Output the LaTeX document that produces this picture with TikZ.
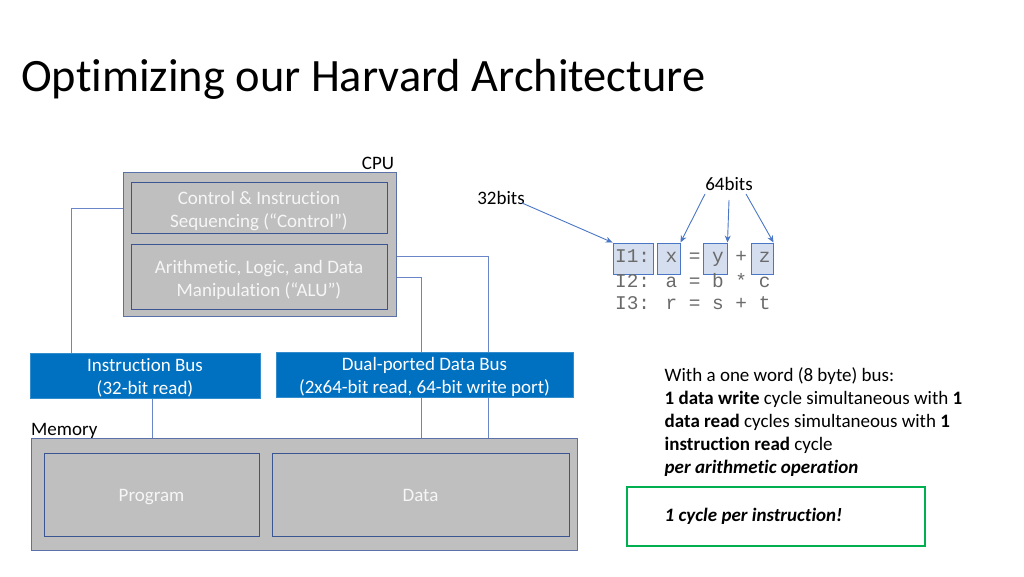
\documentclass[tikz,border=0pt]{standalone}
\usepackage{fontspec}
\setmainfont{Carlito}[Ligatures=NoCommon]
\newfontfamily\codefont{Liberation Mono}
\usetikzlibrary{arrows.meta}
\definecolor{boxgray}{HTML}{BFBFBF}
\definecolor{boxedge}{HTML}{5A72A8}
\definecolor{inneredge}{HTML}{3B5593}
\definecolor{busblue}{HTML}{0070C0}
\definecolor{conncol}{HTML}{6A86C8}
\definecolor{arrowcol}{HTML}{4A76C6}
\definecolor{hlfill}{HTML}{D5DEEF}
\definecolor{hledge}{HTML}{4A76C6}
\definecolor{codegray}{HTML}{6A6A6A}
\definecolor{okgreen}{HTML}{00B050}
\definecolor{boxtext}{HTML}{F6F6F6}
\newcommand{\topstrut}{\rule{0pt}{20pt}}
\newcommand{\onestrut}{\rule[-5pt]{0pt}{24pt}}
\tikzset{
  graybox/.style={draw=boxedge, fill=boxgray, line width=1pt, inner sep=0pt},
  innerbox/.style={draw=inneredge, fill=boxgray, line width=0.8pt, inner sep=0pt,
    text=boxtext, font=\fontsize{19}{23}\selectfont, align=center},
  busbox/.style={draw=busblue!80!white, fill=busblue, line width=0.6pt, inner sep=0pt,
    text=white, font=\fontsize{19}{23}\selectfont, align=center},
  conn/.style={draw=conncol, line width=0.9pt},
  ptr/.style={draw=arrowcol, line width=0.9pt, -{Stealth[length=7pt,width=6pt]}},
  hlbox/.style={draw=hledge, fill=hlfill, line width=1pt, inner sep=0pt},
  lbl/.style={font=\fontsize{19}{23}\selectfont, inner sep=0pt, yshift=-2pt},
  code/.style={font=\codefont\fontsize{19.4}{22.5}\selectfont, text=codegray, inner sep=0pt, anchor=west},
}
\begin{document}
\begin{tikzpicture}[x=1pt,y=-1pt]
\useasboundingbox (0,0) rectangle (1024,576);
% title
\node[anchor=west, inner sep=0pt, font=\fontsize{46.4}{52}\selectfont] (title) at (21,79) {Optimizing our Harvard Architecture};

\coordinate (j1) at (71,208);
\coordinate (j2) at (488,256);
\coordinate (j3) at (421,277);

% CPU
\node[lbl] (cpulbl) at (378,161) {CPU};
\node[graybox, minimum width=273, minimum height=144] (cpu) at (259.5,244) {};
\node[innerbox, minimum width=256, minimum height=51] (ctrl) at (259,207.5) {\topstrut Control \& Instruction\\Sequencing (“Control”)};
\node[innerbox, minimum width=256, minimum height=65] (alu) at (259,276.5) {\topstrut Arithmetic, Logic, and Data\\Manipulation (“ALU”)};

% memory
\node[lbl, anchor=west] (memlbl) at (31,429) {Memory};
\node[graybox, minimum width=546, minimum height=112] (mem) at (304,494) {};
\node[innerbox, minimum width=215, minimum height=83] (prog) at (151.5,494.5) {\onestrut Program};
\node[innerbox, minimum width=297, minimum height=83] (data) at (420.5,494.5) {\onestrut Data};

% connector lines
\draw[conn] (cpu.west |- j1) -- (j1) -- (j1 |- 0,353);
\draw[conn] (cpu.east |- j2) -- (j2) -- (j2 |- mem.north);
\draw[conn] (cpu.east |- j3) -- (j3) -- (j3 |- mem.north);
\draw[conn] (152,398) -- (152,438);

% buses
\node[busbox, minimum width=230, minimum height=45] (ibus) at (145,375.5) {\rule{0pt}{18pt}Instruction Bus\\(32-bit read)};
\node[busbox, minimum width=297, minimum height=45] (dbus) at (424.5,374.5) {\rule{0pt}{18pt}Dual-ported Data Bus\\(2x64-bit read, 64-bit write port)};

% code
\node[hlbox, minimum width=40, minimum height=31] (hI) at (633,258.5) {};
\node[hlbox, minimum width=23, minimum height=31] (hx) at (668.5,258.5) {};
\node[hlbox, minimum width=24, minimum height=31] (hy) at (715,258.5) {};
\node[hlbox, minimum width=22, minimum height=31] (hz) at (762,258.5) {};
\node[code] (c1) at (615,258) {I1: x = y + z};
\node[code] (c2) at (615,281) {I2: a = b * c};
\node[code] (c3) at (615,303) {I3: r = s + t};

% labels and pointers
\node[lbl] (b32) at (501,196) {32bits};
\node[lbl] (b64) at (729,182) {64bits};
\draw[ptr] (522,203) -- (hI.north west);
\draw[ptr] (705,194) -- (hx.north east);
\draw[ptr] (729,200) -- (hy.north east);
\draw[ptr] (746,194) -- (hz.north east);

% explanation
\node[lbl, anchor=north west, align=left] (expl) at (664.5,365) {With a one word (8 byte) bus:\\
\textbf{1 data write} cycle simultaneous with \textbf{1}\\
\textbf{data read} cycles simultaneous with \textbf{1}\\
\textbf{instruction read} cycle\\
\textbf{\itshape per arithmetic operation}};
\node[draw=okgreen, line width=2.5pt, minimum width=298, minimum height=59, inner sep=0pt] (green) at (776,516.5) {};
\node[lbl, anchor=west, font=\bfseries\itshape\fontsize{19}{23}\selectfont] (cpi) at (664.5,514) {1 cycle per instruction!};
\end{tikzpicture}
\end{document}
